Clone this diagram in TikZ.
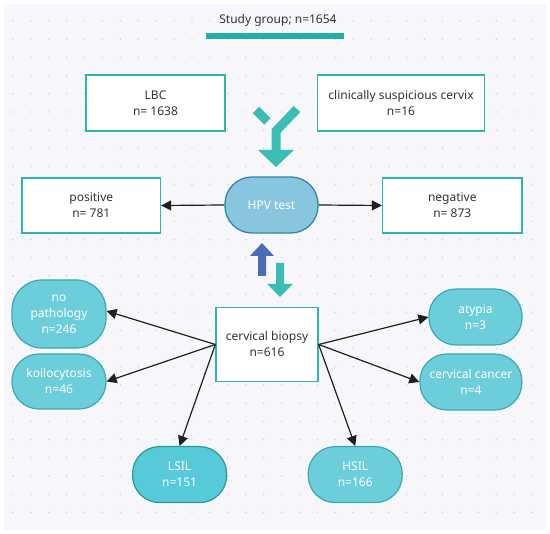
\documentclass[tikz,border=0pt]{standalone}
\usepackage{fontspec}
\setmainfont{Noto Sans}
\usetikzlibrary{arrows.meta}
\definecolor{bgc}{HTML}{F7F7FB}
\definecolor{dotc}{HTML}{CFCFD8}
\definecolor{boxteal}{HTML}{2FB4AC}
\definecolor{barteal}{HTML}{23AEA6}
\definecolor{arrteal}{HTML}{3CBDB3}
\definecolor{hpvfill}{HTML}{88C6DF}
\definecolor{hpvdraw}{HTML}{2C88A6}
\definecolor{pillfill}{HTML}{6CCEDA}
\definecolor{pilldraw}{HTML}{3AA9B6}
\definecolor{lsilfill}{HTML}{57CADA}
\definecolor{bluearr}{HTML}{4C6DB5}
\definecolor{txt}{HTML}{333333}
\begin{document}
\begin{tikzpicture}[x=1pt,y=-1pt,
  every node/.style={font=\fontsize{12}{16}\selectfont, align=center, inner sep=2pt},
  box/.style={draw=boxteal, line width=1.3pt, fill=white, text=txt},
  pill/.style={draw=pilldraw, line width=1.2pt, fill=pillfill, text=white, rounded corners=27pt, minimum width=94pt, minimum height=56pt},
  conn/.style={-{Triangle[length=10pt,width=10pt]}, line width=1.2pt, draw=black!88},
  fat/.style={line width=9pt}
]
\useasboundingbox (0,0) rectangle (550,534);
\fill[bgc] (4,4) rectangle (546,530);
\foreach \i in {0,...,29} {
  \foreach \j in {0,...,27} {
    \fill[dotc] ({13+17.9*\i},{21+18.2*\j}) circle (0.8pt);
  }
}
% title
\node[text=txt] (title) at (278,20) {Study group; n=1654};
\node[fill=barteal, minimum width=138pt, minimum height=6pt, inner sep=0pt] (bar) at (275,36) {};
% top boxes
\node[box, minimum width=139pt, minimum height=56pt] (lbc) at (155.5,103) {LBC\\n= 1638};
\node[box, minimum width=167pt, minimum height=56pt] (clin) at (401,103) {clinically suspicious cervix\\n=16};
% HPV row
\node[draw=hpvdraw, line width=1.3pt, fill=hpvfill, text=white, rounded corners=27pt, minimum width=93pt, minimum height=56pt] (hpv) at (271.5,205) {HPV test};
\node[box, minimum width=138.5pt, minimum height=55pt] (pos) at (91.3,205.5) {positive\\n= 781};
\node[box, minimum width=139.5pt, minimum height=55pt] (neg) at (452.3,205.5) {negative\\n= 873};
% biopsy
\node[box, minimum width=102pt, minimum height=74pt] (bio) at (267,344.5) {cervical biopsy\\n=616};
% outcome pills
\node[pill, minimum height=68pt, rounded corners=30pt] (nopath) at (59,314) {no\\pathology\\n=246};
\node[pill, minimum height=55pt] (koilo) at (59,381.5) {koilocytosis\\n=46};
\node[pill, fill=lsilfill, draw=boxteal!85!black] (lsil) at (179.6,474.6) {LSIL\\n=151};
\node[pill] (hsil) at (355.2,474.6) {HSIL\\n=166};
\node[pill, minimum width=93pt] (atyp) at (475.5,317) {atypia\\n=3};
\node[pill, minimum width=102pt] (canc) at (470.9,382) {cervical cancer\\n=4};
% connectors
\draw[conn] (hpv.west) -- (pos.east);
\draw[conn] (hpv.east) -- (neg.west);
\draw[conn] (bio.west) -- ([yshift=3pt]nopath.east);
\draw[conn] (bio.west) -- (koilo.east);
\draw[conn] (bio.west) -- (lsil.north);
\draw[conn] (bio.east) -- (atyp.west);
\draw[conn] (bio.east) -- (canc.west);
\draw[conn] (bio.east) -- (hsil.north);
% Y-shaped merge arrow
\draw[fat, arrteal] (256,110) -- (267.5,121.5);
\draw[fat, arrteal, line join=miter] (297,109) -- (276,131) -- (276,151);
\fill[arrteal] (258,150) -- (294,150) -- (276,167) -- cycle;
% blue up arrow
\fill[bluearr] (258,276) -- (266,276) -- (266,256) -- (274,256) -- (262,243) -- (250,256) -- (258,256) -- cycle;
% teal down arrow
\fill[arrteal] (276,263) -- (284,263) -- (284,284) -- (293,284) -- (280,297) -- (267,284) -- (276,284) -- cycle;
\end{tikzpicture}
\end{document}
